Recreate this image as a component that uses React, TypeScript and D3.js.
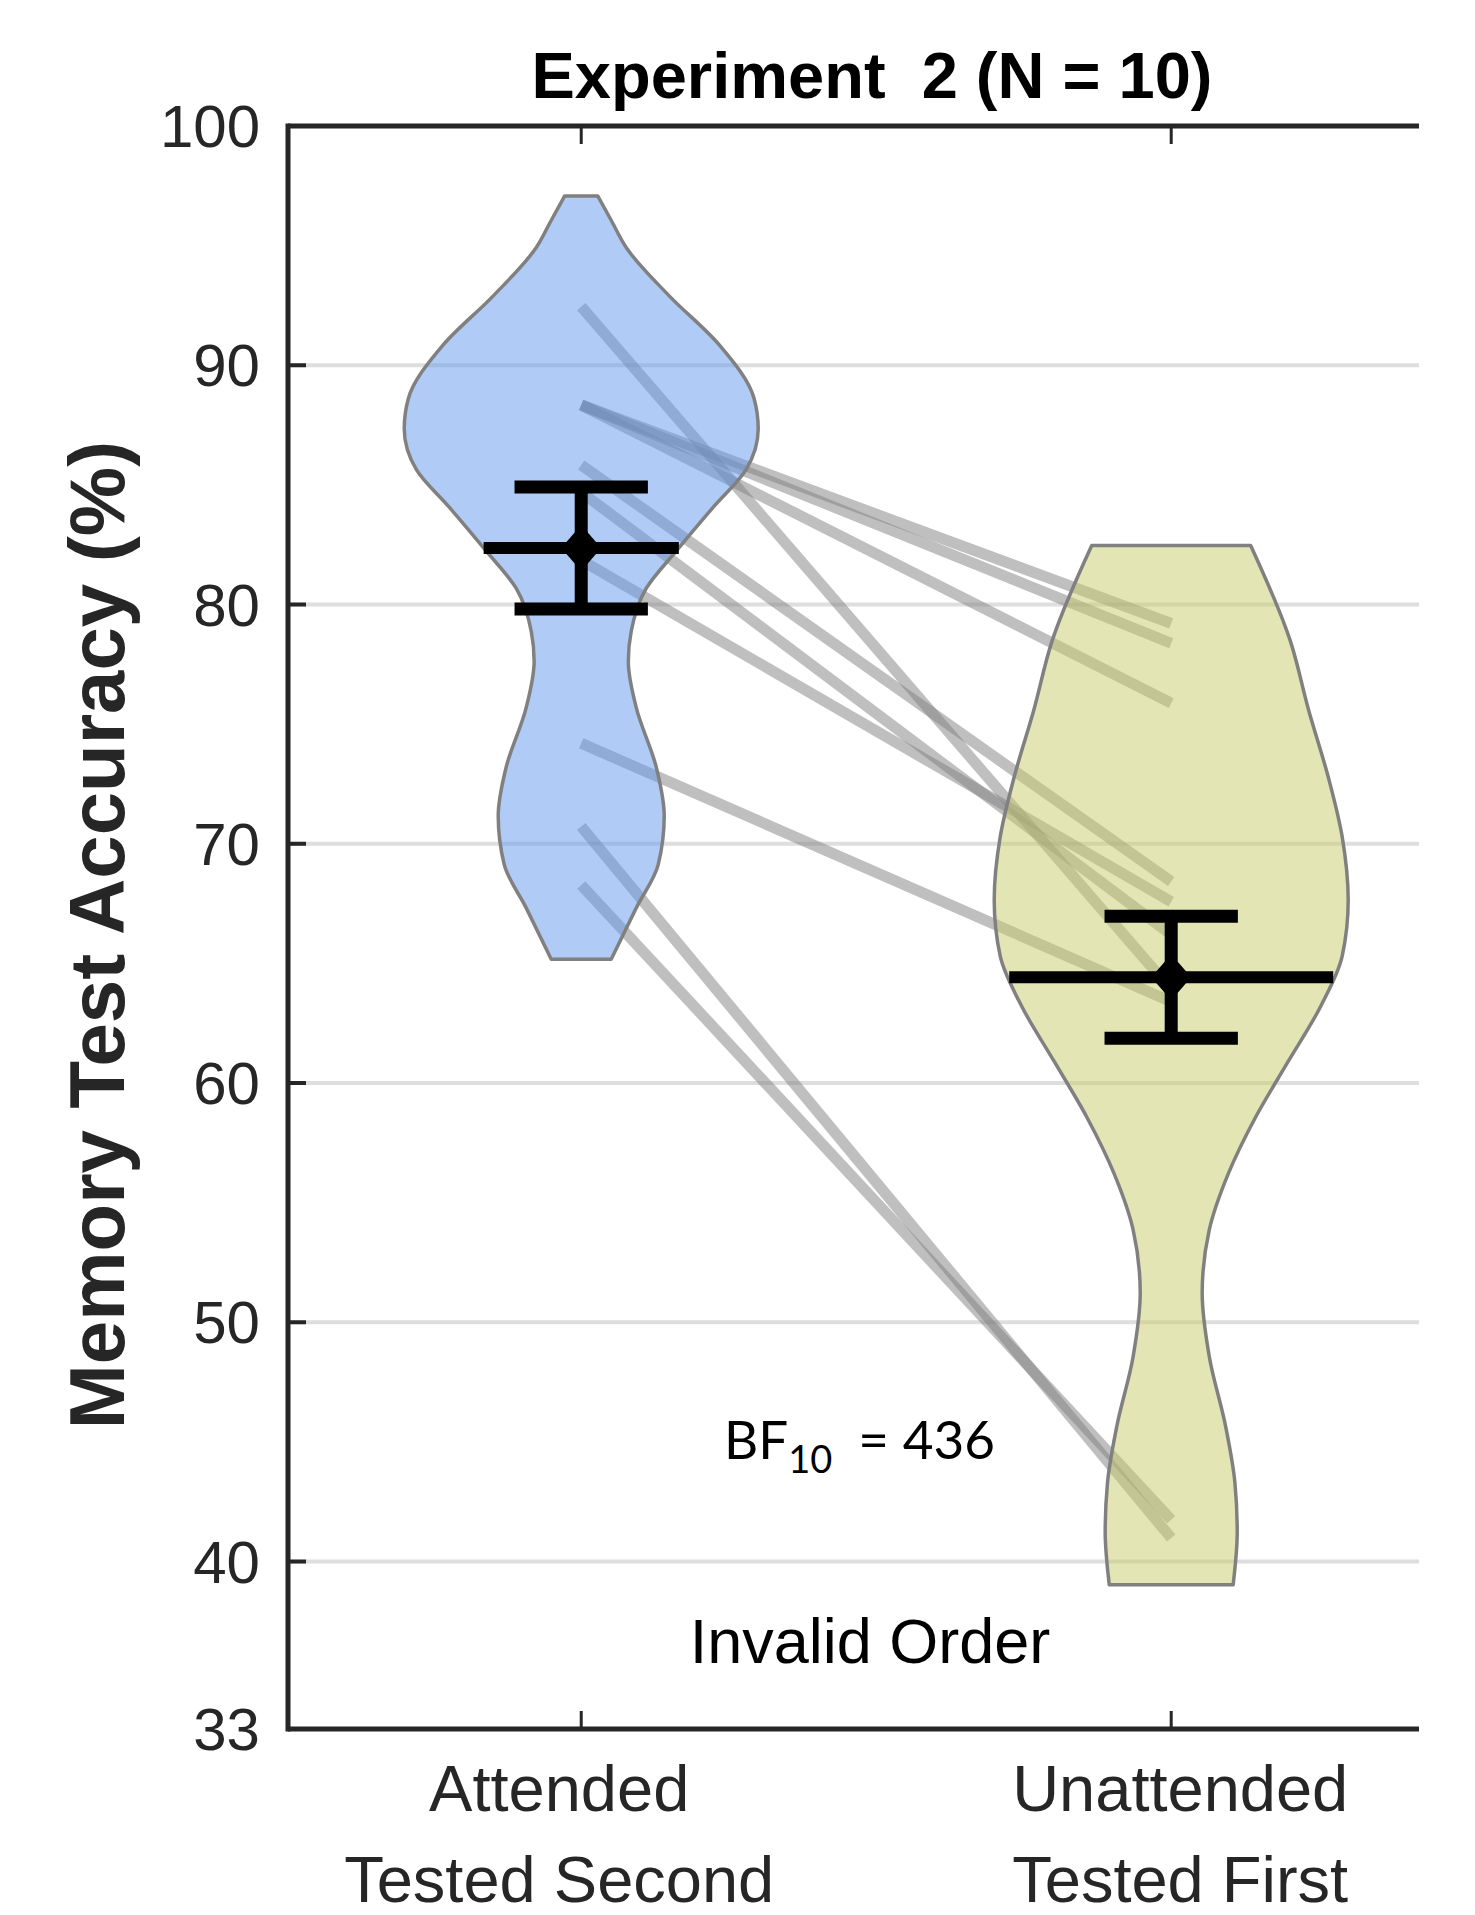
import React from 'react';
import * as d3 from 'd3';

// ---- data ----
const categories = ['Attended', 'Unattended'];
const tickLabelLines = [
  ['Attended', 'Tested Second'],
  ['Unattended', 'Tested First'],
];

// paired scores (same participant, same index)
const attended = [92.45, 88.34, 88.34, 88.34, 85.83, 84.7, 81.85, 74.2, 70.72, 68.28];
const unattended = [63.9, 79.21, 78.38, 75.88, 68.42, 66.2, 67.58, 63.4, 40.98, 41.75];

const means = [82.36, 64.42];
const sems = [2.55, 2.55];

// violin outlines: accuracy level -> relative density
const attendedViolinY = [97.07, 96.05, 94.92, 92.9, 90.85, 88.6, 87.35, 85.65, 84.07, 82.26, 80.67, 78.86, 77.62, 75.69, 73.2, 71.17, 69.13, 67.32, 65.17];
const attendedViolinDensity = [0.094, 0.17, 0.254, 0.497, 0.78, 0.977, 1.0, 0.932, 0.746, 0.54, 0.367, 0.282, 0.266, 0.311, 0.424, 0.469, 0.435, 0.311, 0.169];

const unattendedViolinY = [82.47, 78.5, 75.57, 72.63, 70.29, 67.64, 65.3, 63.24, 60.9, 58.55, 56.2, 53.86, 51.21, 48.57, 45.63, 43.29, 41.23, 39.03];
const unattendedViolinDensity = [0.449, 0.672, 0.777, 0.893, 0.966, 1.0, 0.966, 0.847, 0.661, 0.475, 0.322, 0.215, 0.175, 0.215, 0.308, 0.36, 0.373, 0.35];

const yTicks = [33, 40, 50, 60, 70, 80, 90, 100];
const gridTicks = [40, 50, 60, 70, 80, 90];

const title = 'Experiment  2 (N = 10)';
const yLabel = 'Memory Test Accuracy (%)';
const note = 'Invalid Order';
const bfValue = '436';

// ---- layout ----
const W = 1475;
const H = 1915;
const plot = { left: 288, right: 1419, top: 126, bottom: 1729 };
const violinHalf = 0.3; // category units at density 1
const capHalf = 0.113;
const labelNudge = [-22, 9];
const font = '"Liberation Sans", Arial, Helvetica, sans-serif';
const ink = '#262626';

const violinFills = ['rgba(97,151,235,0.5)', 'rgba(199,203,105,0.5)'];

const x = d3.scaleLinear().domain([0.503, 2.42]).range([plot.left, plot.right]);
const y = d3.scaleLinear().domain([33, 100]).range([plot.bottom, plot.top]);

const violins = [
  { ys: attendedViolinY, ds: attendedViolinDensity },
  { ys: unattendedViolinY, ds: unattendedViolinDensity },
];

const densityAt = (ys: number[], ds: number[], v: number) => {
  // ys descending
  for (let i = 0; i < ys.length - 1; i++) {
    if (v <= ys[i] && v >= ys[i + 1]) {
      const t = (ys[i] - v) / (ys[i] - ys[i + 1]);
      return ds[i] + t * (ds[i + 1] - ds[i]);
    }
  }
  return 0;
};

const App = () => {
  const pairs = attended.map((a, i) => [a, unattended[i]]);

  return (
    <div style={{ position: 'absolute', left: 0, top: 0 }}>
      <svg width={W} height={H} style={{ display: 'block', background: '#fff' }}>
        {/* grid */}
        {gridTicks.map(t => (
          <line key={'g' + t} x1={plot.left} x2={plot.right} y1={y(t)} y2={y(t)}
            stroke="#dedede" strokeWidth={4} />
        ))}

        {/* paired lines */}
        {pairs.map((p, i) => (
          <line key={'p' + i} x1={x(1)} x2={x(2)} y1={y(p[0])} y2={y(p[1])}
            stroke="rgba(128,128,128,0.5)" strokeWidth={11} strokeLinecap="butt" />
        ))}

        {/* violins */}
        {violins.map((v, i) => {
          const cx = i + 1;
          const pts = v.ys.map((yy, j) => ({ v: yy, d: v.ds[j] }));
          const area = d3.area<{ v: number; d: number }>()
            .y(d => y(d.v))
            .x0(d => x(cx - d.d * violinHalf))
            .x1(d => x(cx + d.d * violinHalf))
            .curve(d3.curveMonotoneY);
          return (
            <path key={'v' + i} d={area(pts) || ''} fill={violinFills[i]}
              stroke="#808080" strokeWidth={3.5} strokeLinejoin="round" />
          );
        })}

        {/* mean, sem */}
        {means.map((m, i) => {
          const cx = i + 1;
          const half = densityAt(violins[i].ys, violins[i].ds, m) * violinHalf;
          const px = x(cx);
          const py = y(m);
          return (
            <g key={'e' + i}>
              <line x1={x(cx - half)} x2={x(cx + half)} y1={py} y2={py} stroke="#000" strokeWidth={12} />
              <line x1={px} x2={px} y1={y(m + sems[i])} y2={y(m - sems[i])} stroke="#000" strokeWidth={13} />
              <line x1={x(cx - capHalf)} x2={x(cx + capHalf)} y1={y(m + sems[i])} y2={y(m + sems[i])} stroke="#000" strokeWidth={13} />
              <line x1={x(cx - capHalf)} x2={x(cx + capHalf)} y1={y(m - sems[i])} y2={y(m - sems[i])} stroke="#000" strokeWidth={13} />
              <polygon points={`${px},${py - 23} ${px + 20},${py} ${px},${py + 23} ${px - 20},${py}`} fill="#000" />
            </g>
          );
        })}

        {/* axes */}
        <line x1={plot.left} x2={plot.left} y1={plot.top - 2.5} y2={plot.bottom + 2.5} stroke={ink} strokeWidth={5} />
        <line x1={plot.left} x2={plot.right} y1={plot.top} y2={plot.top} stroke={ink} strokeWidth={5} />
        <line x1={plot.left} x2={plot.right} y1={plot.bottom} y2={plot.bottom} stroke={ink} strokeWidth={5} />
        {yTicks.map(t => (
          <g key={'yt' + t}>
            <line x1={plot.left} x2={plot.left + 18} y1={y(t)} y2={y(t)} stroke={ink} strokeWidth={4} />
            <text x={plot.left - 28} y={y(t)} dy="0.35em" textAnchor="end" fontFamily={font} fontSize={60} fill={ink}>{t}</text>
          </g>
        ))}
        {categories.map((c, i) => (
          <g key={'xt' + c}>
            <line x1={x(i + 1)} x2={x(i + 1)} y1={plot.bottom} y2={plot.bottom - 18} stroke={ink} strokeWidth={3} />
            <line x1={x(i + 1)} x2={x(i + 1)} y1={plot.top} y2={plot.top + 18} stroke={ink} strokeWidth={3} />
            {tickLabelLines[i].map((s, k) => (
              <text key={s} x={x(i + 1) + labelNudge[i]} y={1811 + k * 91} textAnchor="middle"
                fontFamily={font} fontSize={65} fill={ink}>{s}</text>
            ))}
          </g>
        ))}

        {/* titles and notes */}
        <text x={872} y={98} textAnchor="middle" fontFamily={font} fontWeight="bold" fontSize={65} fill="#000"
          style={{ whiteSpace: 'pre' }}>{title}</text>
        <text transform="translate(124,935) rotate(-90)" textAnchor="middle" fontFamily={font} fontWeight="bold" fontSize={78} fill={ink}>{yLabel}</text>
        <text x={870} y={1663} textAnchor="middle" fontFamily={font} fontSize={63} fill="#000">{note}</text>
        <text x={724} y={1459} fontFamily="Lato, 'Open Sans', sans-serif" fontSize={53} fill="#000">
          BF
          <tspan fontSize={38} dy={14}>10</tspan>
          <tspan dy={-14} dx={26}>= {bfValue}</tspan>
        </text>
      </svg>
    </div>
  );
};

export default App;
